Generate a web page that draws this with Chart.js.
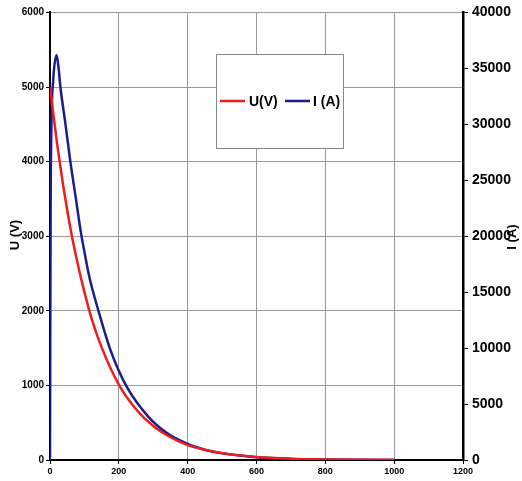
<!DOCTYPE html>
<html>
<head>
<meta charset="utf-8">
<script src="https://cdn.jsdelivr.net/npm/chart.js@4/dist/chart.umd.min.js"></script>
<style>
  html, body { margin: 0; padding: 0; background: #fff; }
  #wrap { width: 522px; height: 481px; }
</style>
</head>
<body>
<div id="wrap"><canvas id="chart" width="522" height="481"></canvas></div>
<script>
// voltage curve U(V), left axis
const timeU = [0, 20, 40, 60, 80, 100, 120, 150, 200, 250, 300, 350, 400, 500, 600, 700, 800, 1000];
const voltage = [5000, 4260, 3630, 3090, 2640, 2250, 1910, 1510, 1010, 680, 455, 305, 200, 92, 41, 18, 8, 2];

// current curve I(A), right axis
const timeI = [0, 2, 9, 19, 25, 30, 45, 59, 75, 90, 100, 114, 142, 176, 222, 286, 340, 400, 450, 500, 600, 700, 800, 900, 1000];
const current = [0, 24000, 33800, 36200, 35000, 33400, 30000, 26700, 23400, 20300, 18600, 16400, 13200, 9800, 6600, 3860, 2400, 1430, 920, 600, 250, 100, 40, 15, 5];

const xTicks = [0, 200, 400, 600, 800, 1000, 1200];

const FONT = "Arial, 'Liberation Sans', sans-serif";
const RED = '#f01c1c';
const BLUE = '#1c1c8a';

const toPoints = (xs, ys) => xs.map((x, i) => ({ x, y: ys[i] }));
const plain = v => String(v);

// axis titles and framed legend drawn on top
const extras = {
    id: 'extras',
    afterDraw(chart) {
        const ctx = chart.ctx;
        ctx.save();
        ctx.fillStyle = '#000';
        ctx.font = 'bold 13px ' + FONT;
        ctx.textAlign = 'center';
        ctx.textBaseline = 'middle';
        ctx.translate(15, 235);
        ctx.rotate(-Math.PI / 2);
        ctx.fillText('U (V)', 0, 0);
        ctx.restore();

        ctx.save();
        ctx.fillStyle = '#000';
        ctx.font = 'bold 13px ' + FONT;
        ctx.textAlign = 'center';
        ctx.textBaseline = 'middle';
        ctx.translate(512, 237);
        ctx.rotate(-Math.PI / 2);
        ctx.fillText('I (A)', 0, 0);
        ctx.restore();

        // legend box
        ctx.save();
        ctx.fillStyle = '#fff';
        ctx.fillRect(216, 54, 127, 94);
        ctx.strokeStyle = '#888';
        ctx.lineWidth = 1;
        ctx.strokeRect(216.5, 54.5, 127, 94);
        ctx.lineWidth = 2.5;
        ctx.strokeStyle = RED;
        ctx.beginPath(); ctx.moveTo(220, 101); ctx.lineTo(245, 101); ctx.stroke();
        ctx.strokeStyle = BLUE;
        ctx.beginPath(); ctx.moveTo(285, 101); ctx.lineTo(310, 101); ctx.stroke();
        ctx.fillStyle = '#000';
        ctx.font = 'bold 14px ' + FONT;
        ctx.textBaseline = 'middle';
        ctx.fillText('U(V)', 249, 102);
        ctx.fillText('I (A)', 313, 102);
        ctx.restore();
    }
};

new Chart(document.getElementById('chart'), {
    type: 'line',
    data: {
        datasets: [
            {
                label: 'U(V)',
                data: toPoints(timeU, voltage),
                borderColor: RED,
                borderWidth: 2.5,
                pointRadius: 0,
                cubicInterpolationMode: 'monotone',
                yAxisID: 'y'
            },
            {
                label: 'I (A)',
                data: toPoints(timeI, current),
                borderColor: BLUE,
                borderWidth: 2.5,
                pointRadius: 0,
                cubicInterpolationMode: 'monotone',
                yAxisID: 'y1'
            }
        ]
    },
    options: {
        responsive: false,
        animation: false,
        layout: { padding: { top: 11, left: 0, right: 0, bottom: 0 } },
        plugins: {
            legend: { display: false },
            tooltip: { enabled: false }
        },
        scales: {
            x: {
                type: 'linear',
                min: 0,
                max: 1200,
                afterBuildTicks: s => { s.ticks = xTicks.map(v => ({ value: v })); },
                afterFit: s => { s.height = 21; },
                border: { color: '#000', width: 2 },
                grid: { color: '#999', tickColor: '#000', tickLength: 4 },
                ticks: { color: '#000', font: { family: FONT, size: 9, weight: 'bold' }, padding: 2, maxRotation: 0, callback: plain }
            },
            y: {
                position: 'left',
                min: 0,
                max: 6000,
                afterFit: s => { s.width = 50; },
                border: { color: '#000', width: 2 },
                grid: { color: '#999', tickColor: '#000', tickLength: 4 },
                ticks: { stepSize: 1000, color: '#000', font: { family: FONT, size: 10, weight: 'bold' }, padding: 2, callback: plain }
            },
            y1: {
                position: 'right',
                min: 0,
                max: 40000,
                afterFit: s => { s.width = 59; },
                border: { color: '#000', width: 2.5 },
                grid: { drawOnChartArea: false, tickColor: '#000', tickLength: 5 },
                ticks: { stepSize: 5000, color: '#000', font: { family: FONT, size: 14, weight: 'bold' }, padding: 4, callback: plain }
            }
        }
    },
    plugins: [extras]
});
</script>
</body>
</html>
